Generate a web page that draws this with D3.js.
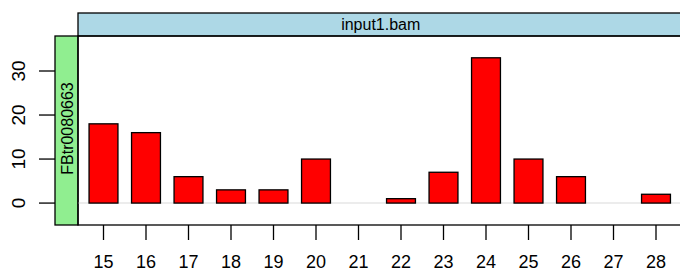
<!DOCTYPE html>
<html>
<head>
<meta charset="utf-8">
<script src="https://cdn.jsdelivr.net/npm/d3@7"></script>
<style>
  body { margin: 0; background: #fff; }
  text { font-family: "Liberation Sans", Arial, sans-serif; }
</style>
</head>
<body>
<div class="chart"></div>
<script>
const categories = ["15", "16", "17", "18", "19", "20", "21", "22", "23", "24", "25", "26", "27", "28"]
const counts = [18, 16, 6, 3, 3, 10, 0, 1, 7, 33, 10, 6, 0, 2]
const yTicks = [0, 10, 20, 30]
const panelTitle = "input1.bam"
const rowTitle = "FBtr0080663"

const W = 680, H = 273
const panel = {left: 78, right: 681.5, top: 36, bottom: 225}

const svg = d3.select(".chart").append("svg")
    .attr("width", W)
    .attr("height", H)

// lattice style: factor positions 1..n, limits padded by 0.6
const x = d3.scaleLinear()
    .domain([0.4, categories.length + 0.6])
    .range([panel.left, panel.right])
const step = x(2) - x(1)
const barW = step * 0.68

const y = d3.scaleLinear()
    .domain([-4.98, 37.95])
    .range([panel.bottom, panel.top])

// top strip
svg.append("rect")
    .attr("x", panel.left).attr("y", 13)
    .attr("width", panel.right - panel.left).attr("height", panel.top - 13)
    .attr("fill", "#add8e6").attr("stroke", "#000").attr("stroke-width", 1.3)
svg.append("text")
    .attr("x", (panel.left + panel.right) / 2 + 1)
    .attr("y", 30)
    .attr("text-anchor", "middle")
    .style("font-size", "16px")
    .text(panelTitle)

// left strip
svg.append("rect")
    .attr("x", 55).attr("y", panel.top)
    .attr("width", panel.left - 55).attr("height", panel.bottom - panel.top)
    .attr("fill", "#90ee90").attr("stroke", "#000").attr("stroke-width", 1.3)
svg.append("text")
    .attr("transform", "translate(72.5,128.5) rotate(-90)")
    .attr("text-anchor", "middle")
    .style("font-size", "16px")
    .text(rowTitle)

// reference line at zero
svg.append("line")
    .attr("x1", panel.left).attr("x2", panel.right)
    .attr("y1", y(0)).attr("y2", y(0))
    .attr("stroke", "#e6e6e6").attr("stroke-width", 1.5)

svg.selectAll(".bar")
    .data(counts)
  .enter().append("rect")
    .attr("class", "bar")
    .attr("x", function(d, i) { return x(i + 1) - barW / 2 })
    .attr("y", function(d) { return y(d) })
    .attr("width", barW)
    .attr("height", function(d) { return y(0) - y(d) })
    .attr("fill", "#ff0000")
    .attr("stroke", "#000")
    .attr("stroke-width", 1.3)
    .style("display", function(d) { return d === 0 ? "none" : null })

// panel border
svg.append("rect")
    .attr("x", panel.left).attr("y", panel.top)
    .attr("width", panel.right - panel.left).attr("height", panel.bottom - panel.top)
    .attr("fill", "none").attr("stroke", "#000").attr("stroke-width", 1.3)

// y axis
const yAxis = svg.append("g")
yAxis.selectAll("line")
    .data(yTicks)
  .enter().append("line")
    .attr("x1", 39).attr("x2", 55)
    .attr("y1", function(d) { return y(d) }).attr("y2", function(d) { return y(d) })
    .attr("stroke", "#000").attr("stroke-width", 1.3)
yAxis.selectAll("text")
    .data(yTicks)
  .enter().append("text")
    .attr("transform", function(d) { return "translate(25," + y(d) + ") rotate(-90)" })
    .attr("text-anchor", "middle")
    .style("font-size", "19px")
    .text(function(d) { return d })

// x axis
const xAxis = svg.append("g")
xAxis.selectAll("line")
    .data(categories)
  .enter().append("line")
    .attr("x1", function(d, i) { return x(i + 1) }).attr("x2", function(d, i) { return x(i + 1) })
    .attr("y1", panel.bottom).attr("y2", 240)
    .attr("stroke", "#000").attr("stroke-width", 1.3)
xAxis.selectAll("text")
    .data(categories)
  .enter().append("text")
    .attr("x", function(d, i) { return x(i + 1) })
    .attr("y", 268)
    .attr("text-anchor", "middle")
    .style("font-size", "18px")
    .text(function(d) { return d })
</script>
</body>
</html>
